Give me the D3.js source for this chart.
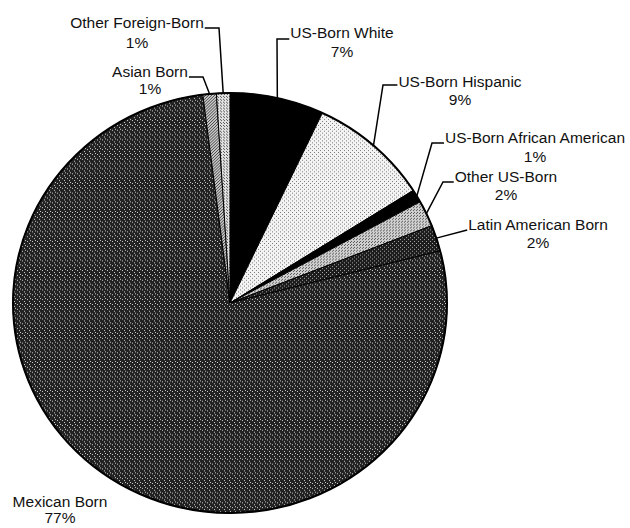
<!DOCTYPE html>
<html>
<head>
<meta charset="utf-8">
<script src="https://cdn.jsdelivr.net/npm/d3@7"></script>
<style>
  html, body { margin: 0; padding: 0; background: #fff; }
  svg text { font-family: "Liberation Sans", Arial, sans-serif; font-size: 15.5px; fill: #111; }
</style>
</head>
<body>
<svg id="chart" width="630" height="528"></svg>
<script>
// ---- data ----
const categories = ["US-Born White", "US-Born Hispanic", "US-Born African American", "Other US-Born",
                    "Latin American Born", "Mexican Born", "Asian Born", "Other Foreign-Born"];
const values = [7, 9, 1, 2, 2, 77, 1, 1];
const valueLabels = ["7%", "9%", "1%", "2%", "2%", "77%", "1%", "1%"];

// ---- styling / layout ----
const fills = ["#000", "url(#pHisp)", "#000", "url(#pOtherUS)", "url(#pLatin)", "url(#pMex)", "url(#pAsian)", "url(#pOtherF)"];
// label layout: cx = text center x, y1/y2 = line centers, ly = leader y, ex = elbow x (null = none)
const layout = [
  {cx: 342, y1: 33,  y2: 52,  ly: 39,  ex: 277, side: "left"},
  {cx: 460, y1: 82,  y2: 100, ly: 85,  ex: 383, side: "left"},
  {cx: 535, y1: 138, y2: 157, ly: 143, ex: 432, side: "left"},
  {cx: 506, y1: 177, y2: 195, ly: 182, ex: 443, side: "left"},
  {cx: 538, y1: 225, y2: 243, ly: 230, ex: null, side: "left"},
  {cx: 60,  y1: 502, y2: 518, ly: null, ex: null, side: "none"},
  {cx: 150, y1: 72,  y2: 89,  ly: 77,  ex: 203, side: "right"},
  {cx: 137, y1: 23,  y2: 43,  ly: 28,  ex: 219, side: "right"}
];

const cx = 230, cy = 303, rx = 217, ry = 210;
const sy = ry / rx;

const svg = d3.select("#chart");
const defs = svg.append("defs");

function dotPattern(id, base, dot, size, dots) {
  const p = defs.append("pattern").attr("id", id).attr("patternUnits", "userSpaceOnUse")
    .attr("width", size).attr("height", size);
  p.append("rect").attr("width", size).attr("height", size).attr("fill", base);
  dots.forEach(d => p.append("rect").attr("x", d[0]).attr("y", d[1]).attr("width", 1).attr("height", 1).attr("fill", dot));
}
dotPattern("pHisp", "#f4f4f4", "#777", 4, [[0,0],[2,2]]);
dotPattern("pOtherUS", "#d0d0d0", "#555", 3, [[0,0],[1,2]]);
dotPattern("pLatin", "#1c1c1c", "#aaa", 4, [[0,0],[2,2]]);
dotPattern("pMex", "#222", "#cfcfcf", 5, [[0,0],[2,1],[4,3]]);
dotPattern("pAsian", "#c8c8c8", "#444", 3, [[0,0],[2,1],[1,2]]);
dotPattern("pOtherF", "#e2e2e2", "#555", 3, [[0,0],[2,2]]);

const pie = d3.pie().sort(null).value(d => d)(values);
const arc = d3.arc().innerRadius(0).outerRadius(rx);

const g = svg.append("g").attr("transform", `translate(${cx},${cy}) scale(1,${sy})`);
g.selectAll("path.slice").data(pie).join("path")
  .attr("class", "slice")
  .attr("d", arc)
  .attr("fill", (d, i) => fills[i])
  .attr("stroke", "#000")
  .attr("stroke-width", 1)
  .attr("vector-effect", "non-scaling-stroke");
g.append("ellipse").attr("rx", rx).attr("ry", rx).attr("fill", "none")
  .attr("stroke", "#000").attr("stroke-width", 2).attr("vector-effect", "non-scaling-stroke");

// labels + leaders
const lab = svg.append("g");
pie.forEach((d, i) => {
  const L = layout[i];
  const t1 = lab.append("text").attr("x", L.cx).attr("y", L.y1).attr("dy", "0.35em")
    .attr("text-anchor", "middle").text(categories[i]);
  lab.append("text").attr("x", L.cx).attr("y", L.y2).attr("dy", "0.35em")
    .attr("text-anchor", "middle").text(valueLabels[i]);
  if (L.side === "none") return;
  const mid = (d.startAngle + d.endAngle) / 2;
  const px = cx + rx * Math.sin(mid), py = cy - rx * sy * Math.cos(mid);
  const bb = t1.node().getBBox();
  const tx = L.side === "left" ? bb.x - 1 : bb.x + bb.width + 1;
  const pts = L.ex === null ? [[tx, L.ly], [px, py]] : [[tx, L.ly], [L.ex, L.ly], [px, py]];
  lab.append("path").attr("d", d3.line()(pts)).attr("fill", "none")
    .attr("stroke", "#000").attr("stroke-width", 1.5);
});
</script>
</body>
</html>
